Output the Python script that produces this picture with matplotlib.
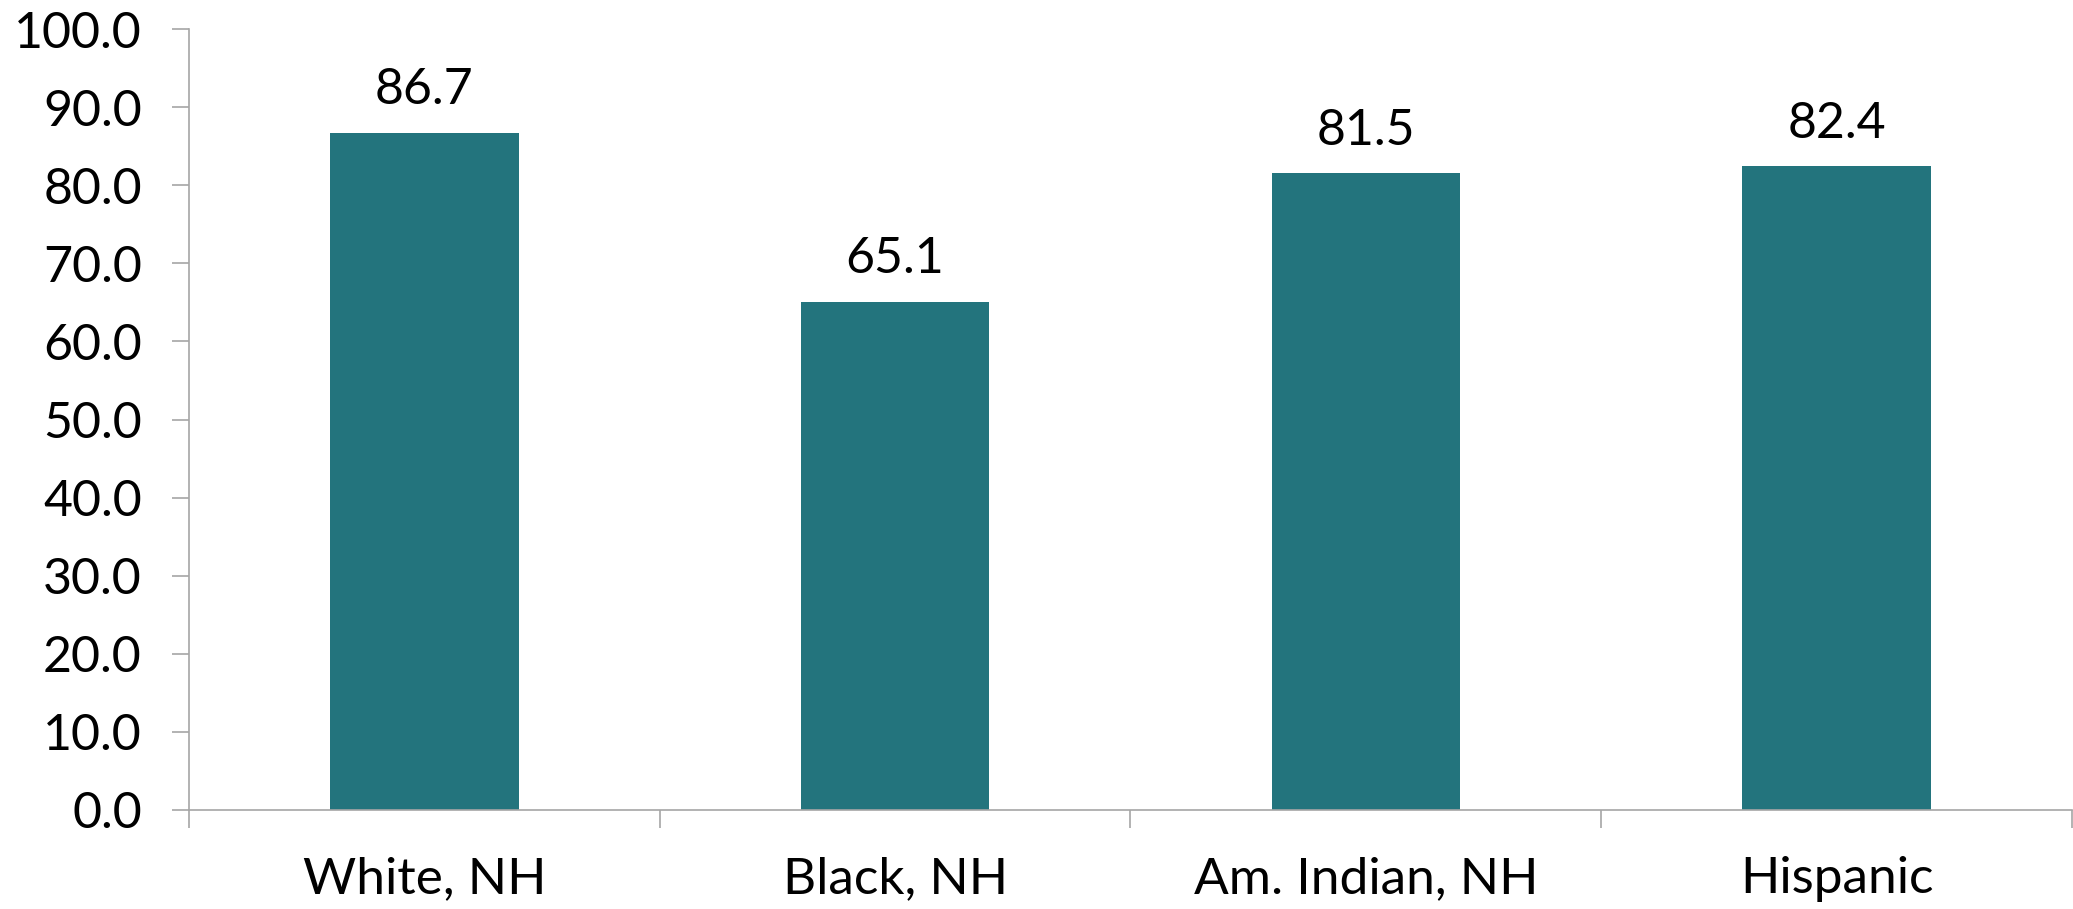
import matplotlib
matplotlib.use("Agg")
import matplotlib.pyplot as plt

categories = ["White, NH", "Black, NH", "Am. Indian, NH", "Hispanic"]
values = [86.7, 65.1, 81.5, 82.4]
yticks = [0, 10, 20, 30, 40, 50, 60, 70, 80, 90, 100]

plt.rcParams['font.family'] = ['Lato', 'DejaVu Sans']

fig = plt.figure(figsize=(20.73, 9.09), dpi=100)
ax = fig.add_axes([189/2073, 1-810/909, 1-189/2073-0.0005, (810-29)/909])

x = list(range(len(categories)))
bars = ax.bar(x, values, width=0.4, color="#23747D", zorder=2)
for xi, v in zip(x, values):
    ax.annotate(f"{v:.1f}", (xi, v), xytext=(0, 14), textcoords="offset points",
                ha="center", va="bottom", fontsize=36, color="black")

ax.set_xlim(-0.5, len(categories) - 0.5)
ax.set_ylim(0, 100)
ax.set_yticks(yticks)
ax.set_yticklabels([f"{t:.1f}" for t in yticks], fontsize=36)
ax.set_xticks([i - 0.5 for i in range(len(categories) + 1)])
ax.set_xticklabels([])
ax.set_xticks(x, minor=True)
ax.set_xticklabels(categories, minor=True, fontsize=37)
ax.tick_params(axis="x", which="minor", length=0, pad=33)
ax.tick_params(axis="x", which="major", length=13, color="#A6A6A6", width=1.2)
ax.tick_params(axis="y", length=12, color="#A6A6A6", width=1.2, pad=22)

for s in ["top", "right"]:
    ax.spines[s].set_visible(False)
for s in ["left", "bottom"]:
    ax.spines[s].set_color("#A6A6A6")
    ax.spines[s].set_linewidth(1.2)

fig.savefig("out.png", dpi=100)
